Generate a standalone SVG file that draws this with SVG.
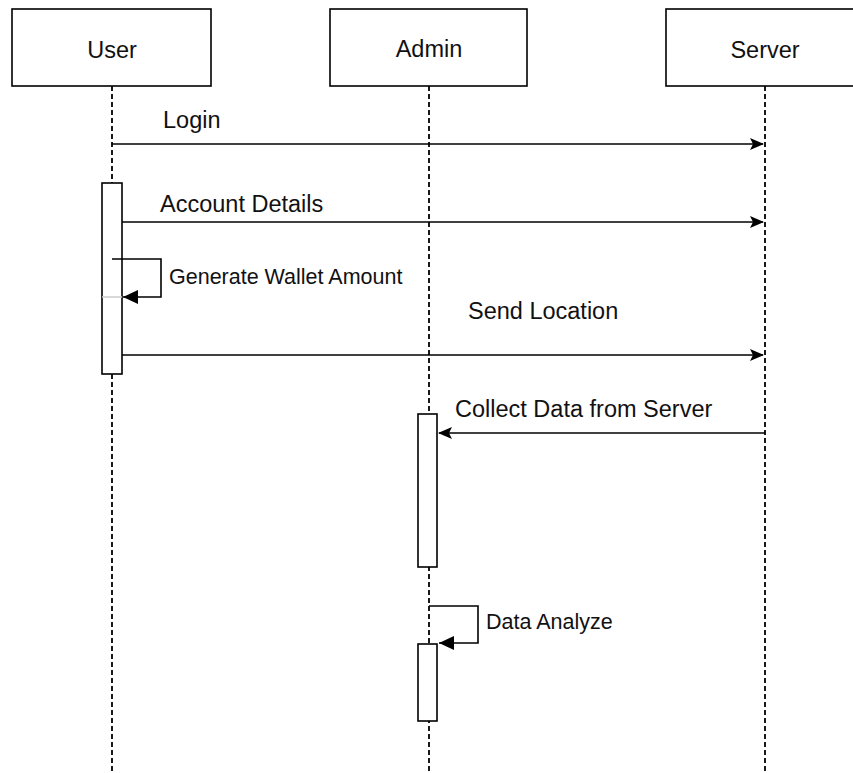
<svg xmlns="http://www.w3.org/2000/svg" width="853" height="773" viewBox="0 0 853 773">
<style>
.box{fill:#fff;stroke:#000;stroke-width:1.6}
.life{stroke:#000;stroke-width:1.8;stroke-dasharray:5 3;fill:none}
.act{fill:#fff;stroke:#000;stroke-width:1.6}
.msg{stroke:#000;stroke-width:1.6;fill:none}
.hd{font-family:"Liberation Sans",Arial,sans-serif;font-size:23.5px;fill:#111;text-anchor:middle}
.lbl{font-family:"Liberation Sans",Arial,sans-serif;font-size:23.5px;fill:#111}
.lbs{font-family:"Liberation Sans",Arial,sans-serif;font-size:21.5px;fill:#111}
</style>
<defs>
<marker id="arr" viewBox="0 0 14 12" refX="13" refY="6" markerWidth="14" markerHeight="12" markerUnits="userSpaceOnUse" orient="auto">
<path d="M0,0 L14,6 L0,12 L3,6 Z" fill="#000"/>
</marker>
<marker id="tri" viewBox="0 0 15 14" refX="15" refY="7" markerWidth="15" markerHeight="14" markerUnits="userSpaceOnUse" orient="auto">
<path d="M0,0 L15,7 L0,14 Z" fill="#000"/>
</marker>
</defs>
<g id="lifelines">
<line class="life" x1="112" y1="86" x2="112" y2="773"/>
<line class="life" x1="429" y1="86" x2="429" y2="773"/>
<line class="life" x1="765" y1="86" x2="765" y2="773"/>
</g>
<g id="user">
<rect class="box" x="12" y="9" width="199" height="77"/>
<text class="hd" x="112" y="58">User</text>
</g>
<g id="admin">
<rect class="box" x="330" y="9" width="197" height="77"/>
<text class="hd" x="429" y="57">Admin</text>
</g>
<g id="server">
<rect class="box" x="666" y="9" width="200" height="77"/>
<text class="hd" x="765" y="58">Server</text>
</g>
<g id="user-activation">
<rect class="act" x="102" y="183" width="20" height="191"/>
<line x1="102" y1="297" x2="122" y2="297" stroke="#ccc" stroke-width="1.5"/>
</g>
<g id="admin-activation-1">
<rect class="act" x="418" y="414" width="19" height="153"/>
</g>
<g id="admin-activation-2">
<rect class="act" x="418" y="644" width="19" height="77"/>
</g>
<g id="connectors">
<line class="msg" x1="112" y1="144" x2="763" y2="144" marker-end="url(#arr)"/>
<line class="msg" x1="122" y1="222" x2="763" y2="222" marker-end="url(#arr)"/>
<polyline class="msg" points="112,259 161,259 161,297 123,297" marker-end="url(#tri)"/>
<line class="msg" x1="122" y1="355" x2="763" y2="355" marker-end="url(#arr)"/>
<line class="msg" x1="765" y1="433" x2="439" y2="433" marker-end="url(#arr)"/>
<polyline class="msg" points="429,606 478,606 478,643 439,643" marker-end="url(#tri)"/>
</g>
<g id="labels">
<text class="lbl" x="163" y="128">Login</text>
<text class="lbl" x="160" y="212">Account Details</text>
<text class="lbs" x="169" y="284">Generate Wallet Amount</text>
<text class="lbl" x="468" y="319">Send Location</text>
<text class="lbl" x="455" y="417">Collect Data from Server</text>
<text class="lbs" x="486" y="629">Data Analyze</text>
</g>
</svg>
